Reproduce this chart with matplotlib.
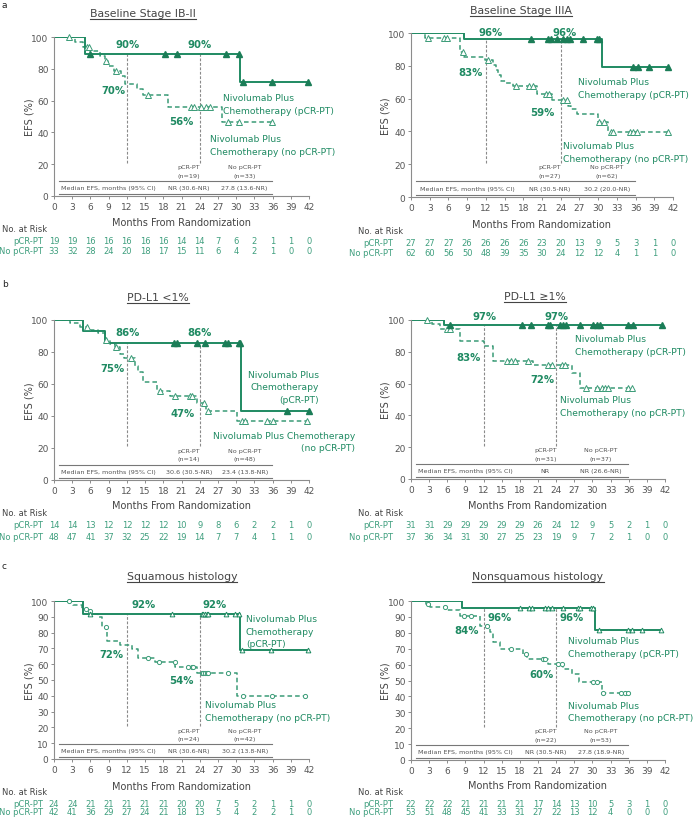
import numpy as np
import matplotlib
matplotlib.use('Agg')
import matplotlib.pyplot as plt
from matplotlib.transforms import blended_transform_factory
from matplotlib.lines import Line2D

W, H = 697, 820
GREEN = '#1f8a62'
DARKG = '#1b7d57'
DASHG = '#3a9b77'
RISKG = '#3f9f7e'
GRAY = '#555555'

months = np.arange(0, 43, 3)

# ---- a (left): Baseline Stage IB-II
ib_pcr_t = [5.1, 30.6]
ib_pcr_s = [89.5, 71.6]
ib_pcr_c = [6.0, 18.3, 20.2, 28.4, 30.5, 31.1, 35.9, 41.9]
ib_no_t = [3.5, 4.8, 5.9, 7.6, 8.4, 8.9, 9.8, 11.1, 11.7, 13.6, 14.7, 18.8, 27.6]
ib_no_s = [97.0, 93.9, 90.9, 87.9, 84.8, 81.8, 78.8, 75.6, 70.5, 67.4, 63.6, 56.2, 46.8]
ib_no_c = [2.4, 5.4, 5.7, 8.5, 10.2, 15.5, 22.5, 23.0, 24.2, 25.0, 25.7, 28.7, 30.4, 35.9]
ib_risk_pcr = [19, 19, 16, 16, 16, 16, 16, 14, 14, 7, 6, 2, 1, 1, 0]
ib_risk_no = [33, 32, 28, 24, 20, 18, 17, 15, 11, 6, 4, 2, 1, 0, 0]
ib_n = [19, 33]
ib_median = ['NR (30.6-NR)', '27.8 (13.6-NR)']
ib_pct = ['90%', '90%', '70%', '56%']

# ---- a (right): Baseline Stage IIIA
iii_pcr_t = [8.5, 30.6]
iii_pcr_s = [96.3, 79.5]
iii_pcr_c = [19.2, 21.9, 22.4, 23.4, 24.4, 25.0, 25.5, 27.6, 29.8, 30.1,
             35.6, 36.4, 38.2, 41.2]
iii_no_t = [2.3, 7.9, 8.5, 11.8, 13.2, 13.6, 14.0, 14.5, 15.3, 16.4, 20.2, 22.6,
            25.1, 25.6, 26.6, 30.0, 31.6]
iii_no_s = [96.7, 88.5, 85.4, 83.6, 80.6, 77.4, 74.2, 71.0, 69.3, 67.6, 62.8, 59.0,
            55.2, 53.7, 50.6, 45.5, 39.4]
iii_no_c = [2.8, 5.3, 5.7, 8.4, 12.4, 16.9, 18.9, 19.5, 21.7, 22.2, 24.4, 25.0,
            30.2, 31.0, 32.0, 32.4, 35.1, 35.6, 36.2, 41.2]
iii_risk_pcr = [27, 27, 27, 26, 26, 26, 26, 23, 20, 13, 9, 5, 3, 1, 0]
iii_risk_no = [62, 60, 56, 50, 48, 39, 35, 30, 24, 12, 12, 4, 1, 1, 0]
iii_n = [27, 62]
iii_median = ['NR (30.5-NR)', '30.2 (20.0-NR)']
iii_pct = ['96%', '96%', '83%', '59%']

# ---- b (left): PD-L1 <1%
pd0_pcr_t = [4.8, 8.4, 30.8]
pd0_pcr_s = [92.9, 85.7, 42.9]
pd0_pcr_c = [19.8, 20.2, 23.5, 24.9, 28.2, 28.7, 30.4, 30.7, 38.4, 42.0]
pd0_no_t = [2.6, 4.3, 5.6, 7.3, 8.4, 9.3, 10.0, 10.8, 11.6, 13.3, 13.9, 14.7,
            16.9, 19.1, 23.5, 25.1, 30.1]
pd0_no_s = [97.9, 95.8, 93.7, 91.6, 87.4, 85.3, 83.2, 79.0, 76.0, 71.5, 67.3, 61.0,
            55.8, 52.3, 48.0, 43.3, 37.0]
pd0_no_c = [5.5, 8.6, 10.2, 12.6, 17.5, 19.9, 22.4, 22.8, 24.7, 25.4,
            30.9, 31.5, 35.0, 36.1, 41.6]
pd0_risk_pcr = [14, 14, 13, 12, 12, 12, 12, 10, 9, 8, 6, 2, 2, 1, 0]
pd0_risk_no = [48, 47, 41, 37, 32, 25, 22, 19, 14, 7, 7, 4, 1, 1, 0]
pd0_n = [14, 48]
pd0_median = ['30.6 (30.5-NR)', '23.4 (13.8-NR)']
pd0_pct = ['86%', '86%', '75%', '47%']

# ---- b (right): PD-L1 >=1%
pd1_pcr_t = [5.5]
pd1_pcr_s = [96.8]
pd1_pcr_c = [6.4, 18.4, 19.8, 22.6, 23.0, 24.6, 25.2, 25.7, 27.9, 30.1, 30.7,
             31.2, 35.9, 36.7, 41.5]
pd1_no_t = [3.4, 4.8, 8.1, 12.0, 13.6, 20.2, 26.6, 27.9]
pd1_no_s = [97.3, 94.6, 86.5, 83.4, 74.5, 72.0, 66.9, 57.4]
pd1_no_c = [2.6, 5.9, 6.4, 15.8, 16.6, 17.2, 19.4, 22.7, 23.3, 24.9, 25.5,
            29.0, 30.7, 31.5, 32.1, 32.6, 35.8, 36.5]
pd1_risk_pcr = [31, 31, 29, 29, 29, 29, 29, 26, 24, 12, 9, 5, 2, 1, 0]
pd1_risk_no = [37, 36, 34, 31, 30, 27, 25, 23, 19, 9, 7, 2, 1, 0, 0]
pd1_n = [31, 37]
pd1_median = ['NR', 'NR (26.6-NR)']
pd1_pct = ['97%', '97%', '83%', '72%']

# ---- c (left): Squamous histology
sq_pcr_t = [4.8, 30.6]
sq_pcr_s = [91.7, 68.8]
sq_pcr_c = [5.9, 19.4, 24.3, 24.6, 24.9, 25.2, 25.4, 28.4, 29.8, 30.4,
            30.9, 35.7, 41.9]
sq_no_t = [3.2, 4.6, 5.4, 6.1, 7.3, 7.9, 8.8, 10.9, 12.8, 13.9, 16.6, 20.0, 23.5, 30.1]
sq_no_s = [97.6, 95.2, 93.9, 91.8, 89.7, 83.3, 75.0, 72.3, 69.6, 63.9, 61.2, 58.0,
           54.2, 40.0]
sq_no_c = [2.4, 5.2, 5.9, 8.5, 15.5, 17.3, 19.9, 22.1, 22.7, 22.9, 24.3, 24.6,
           24.9, 25.2, 25.4, 28.7, 31.2, 35.9, 41.4]
sq_risk_pcr = [24, 24, 21, 21, 21, 21, 21, 20, 20, 7, 5, 2, 1, 1, 0]
sq_risk_no = [42, 41, 36, 29, 27, 24, 21, 18, 13, 5, 4, 2, 2, 1, 0]
sq_n = [24, 42]
sq_median = ['NR (30.6-NR)', '30.2 (13.8-NR)']
sq_pct = ['92%', '92%', '72%', '54%']

# ---- c (right): Nonsquamous histology
nsq_pcr_t = [8.4, 30.5]
nsq_pcr_s = [95.5, 81.8]
nsq_pcr_c = [18.0, 19.5, 20.0, 22.1, 22.6, 23.3, 25.2, 27.6, 27.9, 29.8, 30.1,
             31.1, 35.8, 36.5, 38.2, 41.3]
nsq_no_t = [2.4, 3.2, 5.9, 8.1, 11.4, 13.1, 13.6, 14.7, 18.6, 19.2, 22.7, 25.2,
            26.6, 27.7, 31.5]
nsq_no_s = [98.1, 96.2, 94.3, 90.5, 84.0, 80.2, 73.9, 69.8, 66.7, 63.5, 60.4, 57.2,
            54.1, 48.9, 41.9]
nsq_no_c = [2.8, 5.6, 8.8, 10.0, 12.5, 16.6, 19.0, 21.8, 22.2, 24.3, 24.9,
            30.1, 30.7, 31.7, 34.8, 35.4, 35.8]
nsq_risk_pcr = [22, 22, 22, 21, 21, 21, 21, 17, 14, 13, 10, 5, 3, 1, 0]
nsq_risk_no = [53, 51, 48, 45, 41, 33, 31, 27, 22, 13, 12, 4, 0, 0, 0]
nsq_n = [22, 53]
nsq_median = ['NR (30.5-NR)', '27.8 (18.9-NR)']
nsq_pct = ['96%', '96%', '84%', '60%']


def fx(px):
    return px / W


def fy(py):
    return 1 - py / H


def km_xy(t, s, c):
    end = max(list(t) + list(c))
    return np.r_[0, t, end], np.r_[100, s, s[-1]]


def km_at(t, s, q):
    lev = np.r_[100, s]
    return lev[np.searchsorted(t, q, side='right')]


panels = [
    dict(box=(54, 38, 309, 197), title='Baseline Stage IB-II', title_xy=(143, 14),
         pcr=(ib_pcr_t, ib_pcr_s, ib_pcr_c), no=(ib_no_t, ib_no_s, ib_no_c),
         risk=(ib_risk_pcr, ib_risk_no), n=ib_n, med=ib_median, pct=ib_pct,
         pct_xy=[(12.1, 95.6), (24.0, 95.6), (9.8, 66.9), (21.0, 47.3)],
         lab_pcr=(27.8, 57.9, 'left', ['Nivolumab Plus', 'Chemotherapy (pCR-PT)']),
         lab_no=(25.7, 32.0, 'left', ['Nivolumab Plus', 'Chemotherapy (no pCR-PT)']),
         xlab_y=223, risk_y=(229, 242, 252), side='L', step=20, style='ab'),
    dict(box=(411, 34, 673, 198), title='Baseline Stage IIIA', title_xy=(521, 11),
         pcr=(iii_pcr_t, iii_pcr_s, iii_pcr_c), no=(iii_no_t, iii_no_s, iii_no_c),
         risk=(iii_risk_pcr, iii_risk_no), n=iii_n, med=iii_median, pct=iii_pct,
         pct_xy=[(12.7, 100.8), (24.6, 100.8), (9.5, 76.0), (21.0, 51.6)],
         lab_pcr=(26.8, 66.6, 'left', ['Nivolumab Plus', 'Chemotherapy (pCR-PT)']),
         lab_no=(24.4, 27.5, 'left', ['Nivolumab Plus', 'Chemotherapy (no pCR-PT)']),
         xlab_y=225, risk_y=(231, 244, 254), side='R', step=20, style='ab'),
    dict(box=(54, 321, 309, 481), title='PD-L1 <1%', title_xy=(158, 298),
         pcr=(pd0_pcr_t, pd0_pcr_s, pd0_pcr_c), no=(pd0_no_t, pd0_no_s, pd0_no_c),
         risk=(pd0_risk_pcr, pd0_risk_no), n=pd0_n, med=pd0_median, pct=pd0_pct,
         pct_xy=[(12.1, 92.3), (24.0, 92.3), (9.7, 69.8), (21.2, 41.9)],
         lab_pcr=(43.6, 58.4, 'right', ['Nivolumab Plus', 'Chemotherapy', '(pCR-PT)']),
         lab_no=(49.6, 24.0, 'right', ['Nivolumab Plus Chemotherapy', '(no pCR-PT)']),
         xlab_y=506, risk_y=(513, 526, 537), side='L', step=20, style='ab'),
    dict(box=(411, 321, 665, 480), title='PD-L1 \u22651%', title_xy=(535, 297),
         pcr=(pd1_pcr_t, pd1_pcr_s, pd1_pcr_c), no=(pd1_no_t, pd1_no_s, pd1_no_c),
         risk=(pd1_risk_pcr, pd1_risk_no), n=pd1_n, med=pd1_median, pct=pd1_pct,
         pct_xy=[(12.2, 102.7), (24.1, 102.7), (9.5, 76.5), (21.8, 63.0)],
         lab_pcr=(27.1, 84.4, 'left', ['Nivolumab Plus', 'Chemotherapy (pCR-PT)']),
         lab_no=(24.6, 45.8, 'left', ['Nivolumab Plus', 'Chemotherapy (no pCR-PT)']),
         xlab_y=506, risk_y=(513, 526, 537), side='R', step=20, style='ab'),
    dict(box=(54, 602, 309, 760), title='Squamous histology', title_xy=(182, 577),
         pcr=(sq_pcr_t, sq_pcr_s, sq_pcr_c), no=(sq_no_t, sq_no_s, sq_no_c),
         risk=(sq_risk_pcr, sq_risk_no), n=sq_n, med=sq_median, pct=sq_pct,
         pct_xy=[(14.8, 98.0), (26.5, 98.0), (9.5, 66.6), (21.0, 50.0)],
         lab_pcr=(31.6, 80.9, 'left', ['Nivolumab Plus', 'Chemotherapy', '(pCR-PT)']),
         lab_no=(24.9, 30.4, 'left', ['Nivolumab Plus', 'Chemotherapy (no pCR-PT)']),
         xlab_y=787, risk_y=(793, 805, 813), side='L', step=10, style='c'),
    dict(box=(411, 602, 665, 761), title='Nonsquamous histology', title_xy=(538, 577),
         pcr=(nsq_pcr_t, nsq_pcr_s, nsq_pcr_c), no=(nsq_no_t, nsq_no_s, nsq_no_c),
         risk=(nsq_risk_pcr, nsq_risk_no), n=nsq_n, med=nsq_median, pct=nsq_pct,
         pct_xy=[(14.6, 90.0), (26.6, 90.0), (9.2, 81.8), (21.6, 54.0)],
         lab_pcr=(25.9, 71.2, 'left', ['Nivolumab Plus', 'Chemotherapy (pCR-PT)']),
         lab_no=(25.9, 30.5, 'left', ['Nivolumab Plus', 'Chemotherapy (no pCR-PT)']),
         xlab_y=786, risk_y=(793, 805, 813), side='R', step=10, style='c'),
]

fig = plt.figure(figsize=(W / 100, H / 100), dpi=100)
titles = []
LS = 9.0  # line spacing of curve labels, points

for p in panels:
    l, t, r, b = p['box']
    ax = fig.add_axes([fx(l), fy(b), fx(r - l), (b - t) / H])
    ax.set_xlim(0, 42)
    ax.set_ylim(0, 100)
    for sp in ['top', 'right']:
        ax.spines[sp].set_visible(False)
    for sp in ['left', 'bottom']:
        ax.spines[sp].set_color('#8c8c8c')
        ax.spines[sp].set_linewidth(0.8)
    ax.set_xticks(months)
    ax.set_yticks(np.arange(0, 101, p['step']))
    ax.tick_params(length=2.5, width=0.7, color='#8c8c8c', labelsize=6.5,
                   labelcolor=GRAY, pad=1.5)
    ax.patch.set_alpha(0)

    pt, ps, pc = p['pcr']
    nt, ns, nc = p['no']

    # landmark lines
    for lm in [12, 24]:
        top = km_at(pt, ps, lm)
        ax.plot([lm, lm], [21, top], color='#8a8a8a', lw=0.8, ls=(0, (2.5, 1.5)))

    x, y = km_xy(nt, ns, nc)
    ax.step(x, y, where='post', color=DASHG, lw=1.1, ls=(0, (3, 2)))
    x, y = km_xy(pt, ps, pc)
    ax.step(x, y, where='post', color=GREEN, lw=1.4)

    if p['style'] == 'ab':
        ax.plot(nc, km_at(nt, ns, nc), ls='none', marker='^', ms=4.6,
                mfc='white', mec=DASHG, mew=0.7, clip_on=False)
        ax.plot(pc, km_at(pt, ps, pc), ls='none', marker='^', ms=4.6,
                color=DARKG, clip_on=False)
    else:
        ax.plot(nc, km_at(nt, ns, nc), ls='none', marker='o', ms=3.0,
                mfc='white', mec=DASHG, mew=0.7, clip_on=False)
        ax.plot(pc, km_at(pt, ps, pc), ls='none', marker='^', ms=3.4,
                mfc='white', mec=GREEN, mew=0.7, clip_on=False)

    for (px, py), s in zip(p['pct_xy'], p['pct']):
        ax.text(px, py, s, ha='center', va='center', color=GREEN, fontsize=7.3,
                fontweight='bold', clip_on=False)

    for key in ['lab_pcr', 'lab_no']:
        lx, ly, ha, lines = p[key]
        nl = len(lines)
        for i, line in enumerate(lines):
            ax.annotate(line, (lx, ly), xytext=(0, LS * ((nl - 1) / 2 - i)),
                        textcoords='offset points', ha=ha, va='center',
                        color=GREEN, fontsize=6.6, annotation_clip=False)

    # median EFS table
    ax.plot([0.8, 35.9], [9.5, 9.5], color='#777777', lw=0.8)
    ax.plot([0.8, 35.9], [1.0, 1.0], color='#777777', lw=0.8)
    ax.text(22.2, 18.3, 'pCR-PT', ha='center', va='center', fontsize=4.6, color=GRAY)
    ax.text(22.2, 13.2, '(n=%d)' % p['n'][0], ha='center', va='center', fontsize=4.6,
            color=GRAY)
    ax.text(31.4, 18.3, 'No pCR-PT', ha='center', va='center', fontsize=4.6, color=GRAY)
    ax.text(31.4, 13.2, '(n=%d)' % p['n'][1], ha='center', va='center', fontsize=4.6,
            color=GRAY)
    ax.text(9.0, 5.2, 'Median EFS, months (95% CI)', ha='center', va='center',
            fontsize=4.6, color=GRAY)
    ax.text(22.2, 5.2, p['med'][0], ha='center', va='center', fontsize=4.6, color=GRAY)
    ax.text(31.4, 5.2, p['med'][1], ha='center', va='center', fontsize=4.6, color=GRAY)

    # axis labels
    ax.text(0.5, fy(p['xlab_y']), 'Months From Randomization', ha='center',
            va='center', fontsize=7, color='#444444',
            transform=blended_transform_factory(ax.transAxes, fig.transFigure))
    ylx = 30 if p['side'] == 'L' else 386
    fig.text(fx(ylx), fy((t + b) / 2), 'EFS (%)', rotation=90, ha='center',
             va='center', fontsize=7, color='#444444')

    # number at risk
    tr = blended_transform_factory(ax.transData, fig.transFigure)
    ry0, ry1, ry2 = p['risk_y']
    x0 = 2 if p['side'] == 'L' else 358
    xr = 43 if p['side'] == 'L' else 393
    fig.text(fx(x0), fy(ry0), 'No. at Risk', ha='left', va='center', fontsize=6,
             color='#444444')
    fig.text(fx(xr), fy(ry1), 'pCR-PT', ha='right', va='center', fontsize=6,
             color=RISKG)
    fig.text(fx(xr), fy(ry2), 'No pCR-PT', ha='right', va='center', fontsize=6,
             color=RISKG)
    for m, a1, a2 in zip(months, p['risk'][0], p['risk'][1]):
        ax.text(m, fy(ry1), str(a1), ha='center', va='center', fontsize=6,
                color=RISKG, transform=tr)
        ax.text(m, fy(ry2), str(a2), ha='center', va='center', fontsize=6,
                color=RISKG, transform=tr)

    tx, ty = p['title_xy']
    titles.append(fig.text(fx(tx), fy(ty), p['title'], ha='center', va='center',
                           fontsize=7.8, color='#444444'))

for lab, py in [('a', 5), ('b', 285), ('c', 567)]:
    fig.text(fx(2), fy(py), lab, ha='left', va='center', fontsize=6.5, color='#222222')

# underline the titles
fig.canvas.draw()
rend = fig.canvas.get_renderer()
for tt in titles:
    bb = tt.get_window_extent(rend)
    yl = bb.y0 - 0.5
    fig.add_artist(Line2D([bb.x0 / W, bb.x1 / W], [yl / H, yl / H], color='#444444',
                          lw=0.8, transform=fig.transFigure))

fig.savefig('out.png', dpi=100)
